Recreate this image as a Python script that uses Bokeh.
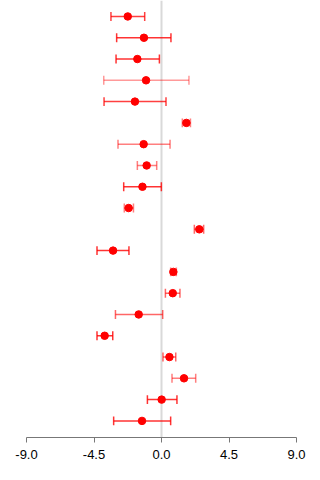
from bokeh.plotting import figure
from bokeh.models import ColumnDataSource, Range1d, FixedTicker, NumeralTickFormatter, Span
from bokeh.embed import file_html
from bokeh.resources import INLINE

# Estimates with lower / upper confidence bounds, listed top to bottom
estimate = [-2.25, -1.17, -1.61, -1.03, -1.77, 1.66, -1.19, -0.99, -1.27, -2.19,
            2.52, -3.23, 0.79, 0.75, -1.52, -3.79, 0.53, 1.50, 0.01, -1.30]
lower = [-3.37, -2.99, -3.03, -3.85, -3.83, 1.39, -2.90, -1.61, -2.52, -2.48,
         2.19, -4.30, 0.61, 0.26, -3.07, -4.30, 0.10, 0.70, -0.94, -3.19]
upper = [-1.12, 0.63, -0.14, 1.83, 0.30, 1.93, 0.57, -0.32, -0.01, -1.87,
         2.81, -2.17, 0.99, 1.23, 0.08, -3.25, 0.95, 2.28, 1.03, 0.61]
row = list(range(1, len(estimate) + 1))
ticks = [-9.0, -4.5, 0.0, 4.5, 9.0]

# per-row opacity of the interval lines
bar_alpha = [0.75, 0.8, 0.8, 0.4, 0.75, 0.5, 0.5, 0.5, 0.8, 0.5,
             0.6, 0.8, 0.5, 0.6, 0.6, 0.8, 0.6, 0.5, 0.8, 0.8]

cap = 0.21
src = ColumnDataSource(dict(
    est=estimate, lo=lower, hi=upper, y=row,
    y0=[r - cap for r in row], y1=[r + cap for r in row], a=bar_alpha,
))

p = figure(width=320, height=480, output_backend="svg", toolbar_location=None,
           x_range=Range1d(-9, 9), y_range=Range1d(20.78, 0.25),
           min_border_left=26, min_border_right=24, min_border_top=0,
           min_border_bottom=43, outline_line_color=None)
p.background_fill_color = "white"
p.border_fill_color = "white"
p.grid.visible = False
p.yaxis.visible = False

# reference line at zero, behind the marks
p.add_layout(Span(location=0, dimension="height", line_color="#d9d9d9",
                  line_width=2, level="underlay"))

p.segment(x0="lo", x1="hi", y0="y", y1="y", source=src,
          line_color="red", line_alpha="a", line_width=1.5)
p.segment(x0="lo", x1="lo", y0="y0", y1="y1", source=src,
          line_color="red", line_alpha="a", line_width=1.5)
p.segment(x0="hi", x1="hi", y0="y0", y1="y1", source=src,
          line_color="red", line_alpha="a", line_width=1.5)
p.scatter(x="est", y="y", source=src, size=7.5, fill_color="red", line_color="red")

ax = p.xaxis[0]
ax.ticker = FixedTicker(ticks=ticks)
ax.formatter = NumeralTickFormatter(format="0.0")
ax.axis_line_color = "#777777"
ax.major_tick_line_color = "#777777"
ax.major_tick_in = 0
ax.major_tick_out = 5
ax.minor_tick_line_color = None
ax.major_label_text_font = "Liberation Sans"
ax.major_label_text_font_size = "13px"
ax.major_label_text_color = "black"
ax.major_label_standoff = 7

open("out.html", "w").write(file_html(p, INLINE))
